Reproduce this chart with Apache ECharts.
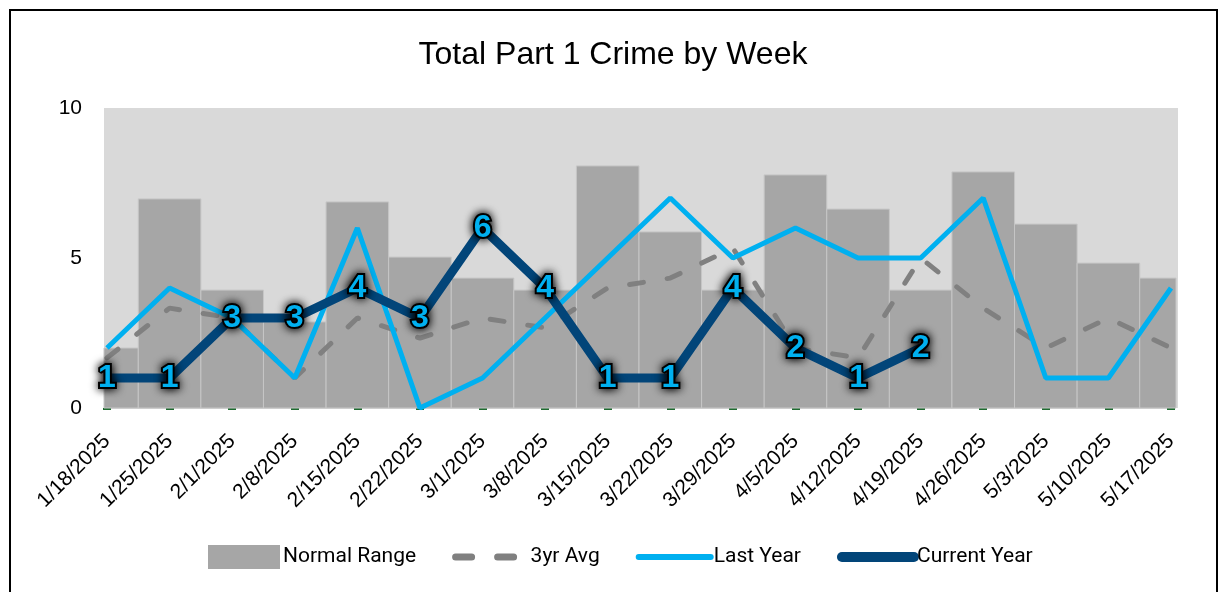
<!DOCTYPE html>
<html><head><meta charset="utf-8">
<script src="https://cdn.jsdelivr.net/npm/echarts@6/dist/echarts.min.js"></script>
<style>
html,body{margin:0;padding:0;background:#fff}
#c{width:1226px;height:592px}
#frame{position:absolute;left:9px;top:9px;width:1205px;height:600px;border:2px solid #000;pointer-events:none}
</style></head><body>
<div id="c"></div><div id="frame"></div>
<script>
const weeks = ['1/18/2025','1/25/2025','2/1/2025','2/8/2025','2/15/2025','2/22/2025','3/1/2025','3/8/2025','3/15/2025','3/22/2025','3/29/2025','4/5/2025','4/12/2025','4/19/2025','4/26/2025','5/3/2025','5/10/2025','5/17/2025'];
const normalRange = [2.0,6.97,3.93,2.87,6.87,5.03,4.33,3.93,8.07,5.87,3.93,7.77,6.63,3.93,7.87,6.13,4.83,4.33];
const avg3yr = [1.67,3.33,3.0,1.0,3.0,2.33,3.0,2.67,4.0,4.33,5.33,2.0,1.67,5.0,3.33,2.0,3.0,2.0];
const lastYear = [2,4,3,1,6,0,1,3,5,7,5,6,5,5,7,1,1,4];
const currentYear = [1,1,3,3,4,3,6,4,1,1,4,2,1,2];
const yTicks = {min:0, max:10, interval:5};

const chart = echarts.init(document.getElementById('c'));
chart.setOption({
  animation:false,
  title:{text:'Total Part 1 Crime by Week', left:'center', top:34,
    textStyle:{fontFamily:'Liberation Sans', fontSize:32, fontWeight:'normal', color:'#000'}},
  legend:{left:203, top:540, itemWidth:72, itemHeight:24, itemGap:36,
    textStyle:{fontFamily:'Roboto', fontSize:21, color:'#000', padding:[0,0,0,-2]},
    data:[
      {name:'Normal Range', icon:'rect', itemStyle:{color:'#a6a6a6', borderWidth:0}},
      {name:'3yr Avg', itemStyle:{opacity:0}, lineStyle:{width:7, type:[16,26], cap:'round', color:'#808080'}},
      {name:'Last Year', itemStyle:{opacity:0}, lineStyle:{width:6, cap:'round', color:'#00b0f0'}},
      {name:'Current Year', itemStyle:{opacity:0}, lineStyle:{width:10, cap:'round', color:'#024579'}}
    ]},
  grid:[
    {left:107, right:55, top:108, bottom:184},
    {left:104, right:48, top:108, bottom:184, show:true, backgroundColor:'#d9d9d9', borderWidth:0}
  ],
  xAxis:[
    {type:'category', data:weeks, boundaryGap:false, gridIndex:0,
      axisLine:{lineStyle:{color:'#d4d4d4', width:2}},
      axisTick:{show:true, length:2, lineStyle:{color:'#1e6b30', width:8}},
      axisLabel:{rotate:45, interval:0, margin:30, fontSize:21, color:'#000', fontFamily:'Liberation Sans'}},
    {type:'value', gridIndex:1, show:false}
  ],
  yAxis:[
    {type:'value', gridIndex:0, min:yTicks.min, max:yTicks.max, interval:yTicks.interval,
      splitLine:{show:false}, axisLine:{show:false}, axisTick:{show:false},
      axisLabel:{fontSize:21, color:'#000', margin:25, fontFamily:'Liberation Sans'}},
    {type:'value', gridIndex:1, show:false}
  ],
  series:[
    {name:'Normal Range', type:'custom', xAxisIndex:0, yAxisIndex:0,
      data:normalRange.map((v,i)=>[i,v]), encode:{x:0, y:1},
      itemStyle:{color:'#a6a6a6'},
      renderItem:(params, api)=>{
        const i = api.value(0);
        const top = api.coord([i, api.value(1)]);
        const base = api.coord([i, 0]);
        const w = api.size([1, 0])[0];
        const cs = params.coordSys;
        const r = echarts.graphic.clipRectByRect(
          {x: top[0] - w/2, y: top[1], width: w, height: base[1] - top[1]},
          {x: cs.x - 3, y: cs.y, width: cs.width + 8, height: cs.height});
        return r ? {type:'rect', shape:r, style:{fill:'#a6a6a6', stroke:'#c6c6c6', lineWidth:1}} : null;
      }},
    {name:'3yr Avg', type:'line', data:avg3yr, symbol:'none',
      lineStyle:{color:'#808080', width:5, type:[14,24], cap:'round'}, itemStyle:{color:'#808080'}},
    {name:'Last Year', type:'line', data:lastYear, symbol:'none',
      lineStyle:{color:'#00b0f0', width:5}, itemStyle:{color:'#00b0f0'}},
    {name:'Current Year', type:'line', data:currentYear, symbol:'circle', symbolSize:1, showSymbol:true,
      lineStyle:{color:'#024579', width:9}, itemStyle:{color:'#024579'},
      label:{show:true, position:'inside', fontFamily:'Liberation Sans', fontSize:32, fontWeight:'bold',
        color:'#00b0f0', textBorderColor:'#000', textBorderWidth:4, textShadowColor:'#000', textShadowBlur:10}}
  ]
});
</script></body></html>
